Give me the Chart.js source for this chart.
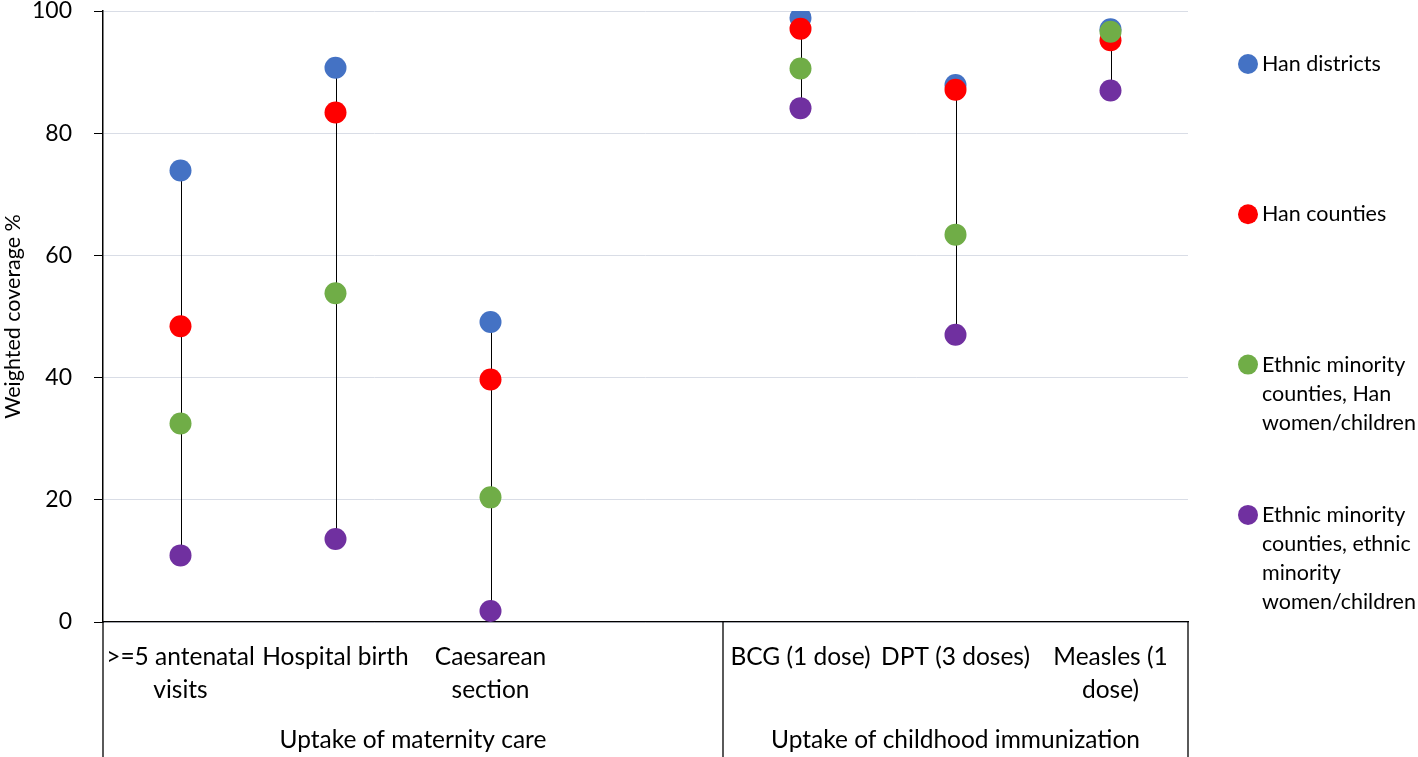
<!DOCTYPE html>
<html>
<head>
<meta charset="utf-8">
<script src="https://cdn.jsdelivr.net/npm/chart.js@4.4.1/dist/chart.umd.min.js"></script>
<style>
    html, body { margin: 0; padding: 0; background: #fff; }
    #wrap { width: 1418px; height: 757px; position: relative; }
</style>
</head>
<body>
<div id="wrap"><canvas id="chart"></canvas></div>
<script>
// categories (the empty one is the spacer before the immunization group)
const categories = [
    ['>=5 antenatal', 'visits'],
    ['Hospital birth'],
    ['Caesarean', 'section'],
    '',
    ['BCG (1 dose)'],
    ['DPT (3 doses)'],
    ['Measles (1', 'dose)'],
];

const groups = [
    { label: 'Uptake of maternity care', start: 0, end: 3 },
    { label: 'Uptake of childhood immunization', start: 4, end: 6 },
];

const hanDistricts = [73.9, 90.7, 49.1, null, 98.9, 87.9, 97.0];
const hanCounties = [48.4, 83.4, 39.7, null, 97.1, 87.1, 95.2];
const minorityHan = [32.5, 53.8, 20.4, null, 90.6, 63.4, 96.6];
const minorityEthnic = [10.9, 13.6, 1.8, null, 84.1, 47.0, 87.0];

const seriesLabels = [
    ['Han districts'],
    ['Han counties'],
    ['Ethnic minority', 'counties, Han', 'women/children'],
    ['Ethnic minority', 'counties, ethnic', 'minority', 'women/children'],
];
const seriesColors = ['#4472C4', '#FF0000', '#70AD47', '#7030A0'];

const yTicks = [0, 20, 40, 60, 80, 100];

const FONT = 'Lato, "Open Sans", sans-serif';

// vertical high-low line per category
const highLowLines = {
    id: 'highLowLines',
    beforeDatasetsDraw(chart) {
        const { ctx } = chart;
        const x = chart.scales.x;
        const y = chart.scales.y;
        ctx.save();
        ctx.strokeStyle = '#000';
        ctx.lineWidth = 1;
        categories.forEach((_, i) => {
            const vals = chart.data.datasets.map(d => d.data[i]).filter(v => v != null);
            if (vals.length < 2) return;
            const px = Math.round(x.getPixelForValue(i)) + 0.5;
            ctx.beginPath();
            ctx.moveTo(px, y.getPixelForValue(Math.max(...vals)));
            ctx.lineTo(px, y.getPixelForValue(Math.min(...vals)));
            ctx.stroke();
        });
        ctx.restore();
    },
};

// group dividers + group labels under the category labels
const groupAxis = {
    id: 'groupAxis',
    afterDraw(chart) {
        const { ctx, chartArea } = chart;
        const x = chart.scales.x;
        const band = (x.right - x.left) / categories.length;
        const bottom = chart.height;
        ctx.save();
        ctx.strokeStyle = '#000';
        ctx.lineWidth = 1.3;
        const edges = new Set();
        groups.forEach(g => {
            edges.add(x.getPixelForValue(g.start) - band / 2);
            edges.add(x.getPixelForValue(g.end) + band / 2);
        });
        edges.forEach(px => {
            ctx.beginPath();
            ctx.moveTo(px, chartArea.bottom);
            ctx.lineTo(px, bottom);
            ctx.stroke();
        });
        ctx.fillStyle = '#000';
        ctx.font = '24.5px ' + FONT;
        ctx.textAlign = 'center';
        ctx.textBaseline = 'middle';
        groups.forEach(g => {
            const l = x.getPixelForValue(g.start) - band / 2;
            const r = x.getPixelForValue(g.end) + band / 2;
            ctx.fillText(g.label, (l + r) / 2, chartArea.bottom + 118);
        });
        ctx.restore();
    },
};

// legend on the right, spaced out like the original
const sideLegend = {
    id: 'sideLegend',
    afterDraw(chart) {
        const { ctx, chartArea } = chart;
        ctx.save();
        ctx.font = '21.5px ' + FONT;
        ctx.textAlign = 'left';
        ctx.textBaseline = 'middle';
        chart.data.datasets.forEach((ds, i) => {
            const cy = chartArea.top + 53 + i * 150.3;
            const cx = chartArea.right + 60;
            ctx.fillStyle = ds.backgroundColor;
            ctx.beginPath();
            ctx.arc(cx, cy, 10, 0, Math.PI * 2);
            ctx.fill();
            ctx.fillStyle = '#000';
            seriesLabels[i].forEach((line, j) => {
                ctx.fillText(line, cx + 14, cy + j * 29);
            });
        });
        ctx.restore();
    },
};

const seriesData = [hanDistricts, hanCounties, minorityHan, minorityEthnic];

new Chart(document.getElementById('chart'), {
    type: 'line',
    data: {
        labels: categories,
        datasets: seriesData.map((values, i) => ({
            label: seriesLabels[i].join(' '),
            data: values,
            showLine: false,
            backgroundColor: seriesColors[i],
            borderColor: seriesColors[i],
            pointRadius: 11,
            pointHoverRadius: 11,
            pointBorderWidth: 0,
            order: seriesData.length - i,
        })),
    },
    options: {
        responsive: true,
        maintainAspectRatio: false,
        animation: false,
        events: [],
        layout: { padding: { top: 10, right: 230, left: 0, bottom: 0 } },
        plugins: {
            legend: { display: false },
            tooltip: { enabled: false },
        },
        scales: {
            x: {
                type: 'category',
                offset: true,
                grid: { display: false },
                border: { display: true, color: '#000', width: 1.3 },
                ticks: {
                    autoSkip: false,
                    maxRotation: 0,
                    minRotation: 0,
                    color: '#000',
                    padding: 11,
                    font: { family: FONT, size: 24.5, lineHeight: '33px' },
                },
                afterFit(scale) {
                    scale.height = 135;
                    scale.paddingLeft = 0;
                    scale.paddingRight = 0;
                },
            },
            y: {
                min: 0,
                max: 100,
                afterBuildTicks(scale) { scale.ticks = yTicks.map(v => ({ value: v })); },
                grid: {
                    color: '#D9DDE6',
                    lineWidth: 1,
                    tickColor: '#000',
                    tickLength: 9,
                },
                border: { display: true, color: '#000', width: 1.5 },
                ticks: {
                    color: '#000',
                    padding: 22,
                    font: { family: FONT, size: 23 },
                },
                title: {
                    display: true,
                    text: 'Weighted coverage %',
                    color: '#000',
                    padding: 0,
                    font: { family: FONT, size: 21.5 },
                },
                afterFit(scale) {
                    scale.width = 103;
                    scale.paddingTop = 0;
                    scale.paddingBottom = 0;
                },
            },
        },
    },
    plugins: [highLowLines, groupAxis, sideLegend],
});
</script>
</body>
</html>
